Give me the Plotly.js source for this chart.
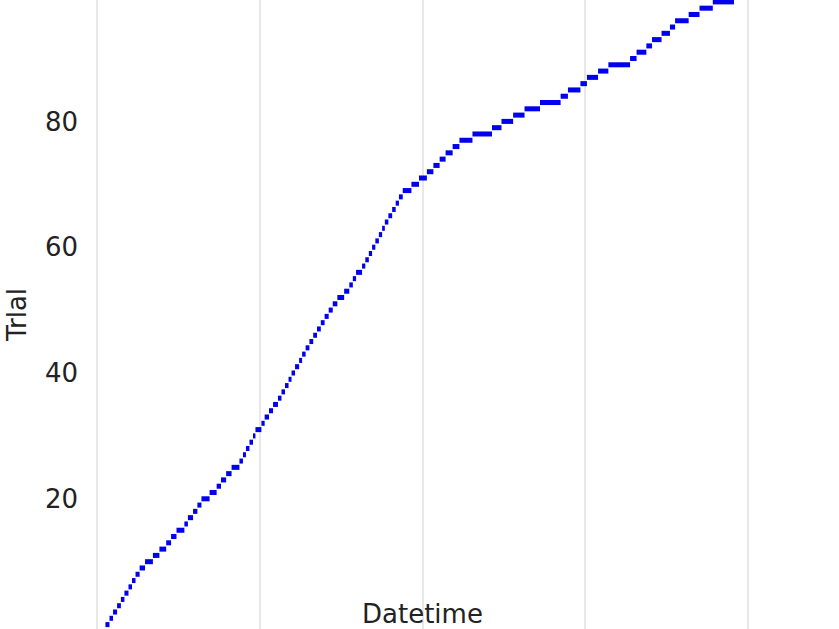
<!DOCTYPE html>
<html>
<head>
<meta charset="utf-8">
<script src="https://cdn.plot.ly/plotly-3.0.1.min.js"></script>
<style>
  html, body { margin: 0; padding: 0; background: #fff; overflow: hidden; }
  #graph { width: 839px; height: 629px; }
</style>
</head>
<body>
<div id="graph"></div>
<script>
// trial numbers on the y axis
const trials = [
  0, 1, 2, 3, 4, 5, 6, 7, 8, 9, 10, 11, 12, 13, 14, 15, 16, 17, 18, 19,
  20, 21, 22, 23, 24, 25, 26, 27, 28, 29, 30, 31, 32, 33, 34, 35, 36, 37, 38, 39,
  40, 41, 42, 43, 44, 45, 46, 47, 48, 49, 50, 51, 52, 53, 54, 55, 56, 57, 58, 59,
  60, 61, 62, 63, 64, 65, 66, 67, 68, 69, 70, 71, 72, 73, 74, 75, 76, 77, 78, 79,
  80, 81, 82, 83, 84, 85, 86, 87, 88, 89, 90, 91, 92, 93, 94, 95, 96, 97, 98, 99
];

// seconds after 10:00:00 when each trial finished (each one starts when the previous ends)
const firstStartSec = 31;
const endSec = [
  46, 59, 74, 88, 101, 116, 129, 142, 157, 177,
  206, 230, 255, 273, 293, 322, 335, 354, 370, 385,
  415, 441, 457, 476, 496, 525, 538, 549, 562, 575,
  584, 606, 618, 634, 649, 667, 680, 693, 706, 717,
  730, 745, 756, 769, 783, 797, 811, 825, 839, 854,
  869, 886, 911, 930, 943, 955, 977, 989, 1002, 1014,
  1026, 1039, 1051, 1061, 1074, 1088, 1101, 1113, 1127, 1159,
  1187, 1216, 1240, 1263, 1285, 1311, 1336, 1384, 1456, 1491,
  1534, 1576, 1633, 1709, 1736, 1782, 1806, 1847, 1885, 1965,
  1989, 2025, 2046, 2081, 2112, 2131, 2181, 2221, 2270, 2348
];

const yTicks = [20, 40, 60, 80];

const runStart = Date.UTC(2024, 0, 1, 10, 0, 0);
const startSec = [firstStartSec].concat(endSec.slice(0, -1));

function initChart() {
  const font = { family: "DejaVu Sans", size: 26, color: "#222" };

  const data = [
    {
      type: "bar",
      orientation: "h",
      y: trials,
      base: startSec.map(s => runStart + s * 1000),
      x: endSec.map((e, i) => (e - startSec[i]) * 1000),
      width: 0.8,
      marker: { color: "#0000ee", line: { width: 0 } },
      hoverinfo: "skip"
    }
  ];

  const layout = {
    width: 839,
    height: 629,
    margin: { l: 84, r: 79, t: 0, b: 0 },
    paper_bgcolor: "#fff",
    plot_bgcolor: "#fff",
    font: font,
    showlegend: false,
    xaxis: {
      type: "date",
      range: [runStart - 48 * 1000, runStart + 2444 * 1000],
      tick0: runStart,
      dtick: 600000,
      showgrid: true,
      gridcolor: "#e8e8e8",
      gridwidth: 2,
      showticklabels: false,
      zeroline: false,
      showline: false,
      ticks: ""
    },
    yaxis: {
      range: [-0.7, 99.3],
      tickvals: yTicks,
      showgrid: false,
      zeroline: false,
      showline: false,
      ticks: "",
      tickfont: font,
      ticklabelstandoff: 5,
      automargin: false,
      title: { text: "Trlal", font: font, standoff: 10 }
    },
    annotations: [
      {
        text: "Datetime",
        xref: "paper",
        yref: "paper",
        x: 0.5,
        y: 0,
        xanchor: "center",
        yanchor: "bottom",
        yshift: -1,
        borderpad: 0,
        showarrow: false,
        font: font
      }
    ]
  };

  Plotly.newPlot("graph", data, layout, { staticPlot: true, displayModeBar: false });
}

window.addEventListener("load", initChart);
</script>
</body>
</html>
